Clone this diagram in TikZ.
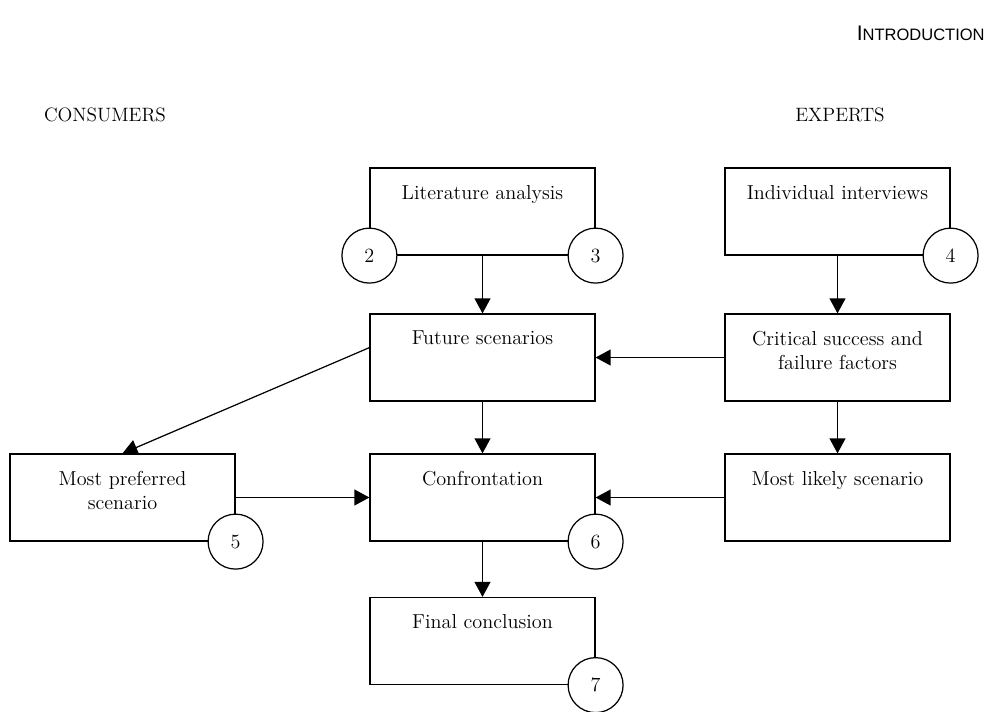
\documentclass[tikz,border=0pt]{standalone}
\usepackage{fontspec}
\newfontfamily\headfont{Liberation Sans}
\usetikzlibrary{arrows.meta}

\tikzset{
  stage/.style={draw, line width=0.7pt, minimum width=4.5cm, minimum height=1.74cm, inner sep=0pt},
  num/.style={circle, draw, line width=0.7pt, fill=white, minimum size=1.1cm, inner sep=0pt, font=\fontsize{11.5}{13}\selectfont},
  flow/.style={line width=0.7pt, -{Triangle[length=8.5pt,width=9pt]}},
  caption/.style={anchor=north, yshift=-6.5pt, align=center, font=\fontsize{11.5}{14}\selectfont},
}

\begin{document}
\begin{tikzpicture}[x=0.02cm,y=-0.02cm]
  \useasboundingbox (0,0) rectangle (1003,711);

  % headings
  \path (985,33) node[anchor=east, inner sep=0pt] (head) {\headfont{\fontsize{12}{13}\selectfont I}{\fontsize{9.4}{10}\selectfont NTRODUCTION}};
  \path (105,115) node[inner sep=0pt, font=\fontsize{11}{12}\selectfont\addfontfeature{LetterSpace=6}] (cons) {CONSUMERS};
  \path (840,115) node[inner sep=0pt, font=\fontsize{11}{12}\selectfont\addfontfeature{LetterSpace=6}] (expe) {EXPERTS};

  % boxes
  \path (482.5,211.5) node[stage, label={[caption]north:Literature analysis}] (lit) {};
  \path (837.5,211.5) node[stage, label={[caption]north:Individual interviews}] (ind) {};
  \path (482.5,357.5) node[stage, label={[caption]north:Future scenarios}] (fut) {};
  \path (837.5,357.5) node[stage, label={[caption]north:Critical success and\\failure factors}] (crit) {};
  \path (122.5,497.5) node[stage, label={[caption]north:Most preferred\\scenario}] (pref) {};
  \path (482.5,497.5) node[stage, label={[caption]north:Confrontation}] (conf) {};
  \path (837.5,497.5) node[stage, label={[caption]north:Most likely scenario}] (like) {};
  \path (482.5,641) node[stage, label={[caption]north:Final conclusion}] (fin) {};

  % arrows
  \draw[flow] (lit.south) -- (fut.north);
  \draw[flow] (ind.south) -- (crit.north);
  \draw[flow] (crit.west) -- (fut.east);
  \draw[flow] (fut.175) -- (pref.north);
  \draw[flow] (fut.south) -- (conf.north);
  \draw[flow] (crit.south) -- (like.north);
  \draw[flow] (pref.east) -- (conf.west);
  \draw[flow] (like.west) -- (conf.east);
  \draw[flow] (conf.south) -- (fin.north);

  % numbered circles
  \path (lit.south west) node[num] (n2) {2};
  \path (lit.south east) node[num] (n3) {3};
  \path (ind.south east) node[num] (n4) {4};
  \path (pref.south east) node[num] (n5) {5};
  \path (conf.south east) node[num] (n6) {6};
  \path (fin.south east) node[num] (n7) {7};
\end{tikzpicture}
\end{document}
